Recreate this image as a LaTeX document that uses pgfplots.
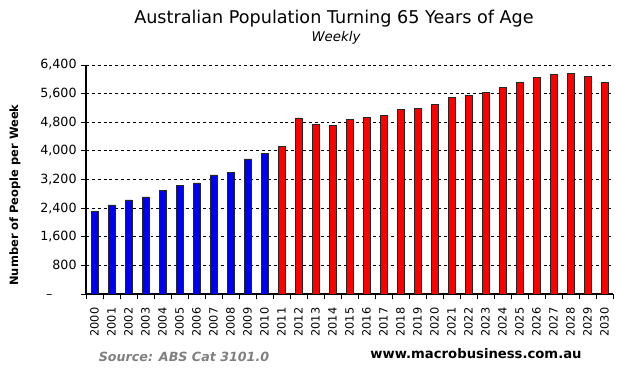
\documentclass[border=0pt]{standalone}
\usepackage{pgfplots}
\pgfplotsset{compat=1.18}
\usepackage{fontspec}
\setmainfont{DejaVu Sans}
\definecolor{barblue}{RGB}{0,0,240}
\definecolor{barred}{RGB}{250,0,0}
\definecolor{srcgray}{RGB}{128,128,128}
\begin{document}
\begin{tikzpicture}
\path[use as bounding box] (-64.5pt,-65.25pt) rectangle (404.25pt,220.5pt);
\begin{axis}[
  at={(0pt,0pt)}, anchor=south west,
  scale only axis, width=395.25pt, height=171.75pt,
  xmin=-0.5, xmax=30.5, ymin=0, ymax=6400,
  axis lines*=left,
  axis line style={black, line width=0.8pt},
  ybar, bar shift=0pt, bar width=0.4,
  xtick={0,...,30},
  xticklabels={2000,2001,2002,2003,2004,2005,2006,2007,2008,2009,2010,2011,2012,2013,2014,2015,2016,2017,2018,2019,2020,2021,2022,2023,2024,2025,2026,2027,2028,2029,2030},
  x tick label style={rotate=90, anchor=east, font=\fontsize{8.5}{10}\selectfont, inner xsep=6.5pt, inner ysep=1pt},
  minor xtick={-0.5,0.5,...,30.5},
  ytick={0,800,...,6400},
  yticklabels={{--\phantom{000}},{800},{1,600},{2,400},{3,200},{4,000},{4,800},{5,600},{6,400}},
  y tick label style={font=\fontsize{9.5}{11}\selectfont},
  tick align=outside,
  x tick style={draw=none},
  minor x tick style={draw=black, line width=0.6pt},
  minor tick length=4pt,
  y tick style={black, line width=0.6pt},
  major tick length=3.5pt,
  ymajorgrids,
  major grid style={black, dashed, line width=0.6pt, dash pattern=on 2.2pt off 2.2pt},
]
\addplot[fill=barblue, draw=black!85, line width=0.5pt] coordinates {
(0,2300) (1,2490) (2,2630) (3,2715) (4,2885) (5,3025) (6,3105) (7,3330) (8,3405) (9,3775) (10,3935)
};
\addplot[fill=barred, draw=black!85, line width=0.5pt] coordinates {
(11,4130) (12,4920) (13,4745) (14,4715) (15,4885) (16,4940) (17,4995) (18,5160) (19,5190) (20,5300)
(21,5495) (22,5550) (23,5635) (24,5775) (25,5915) (26,6055) (27,6140) (28,6165) (29,6080) (30,5915)
};
\end{axis}
\node[font=\fontsize{13.2}{15}\selectfont] at (186pt,206.5pt) {Australian Population Turning 65 Years of Age};
\node[font=\fontsize{10}{12}\selectfont\itshape] at (187.5pt,192pt) {Weekly};
\node[font=\fontsize{8.6}{10}\selectfont\bfseries, rotate=90] at (-53.25pt,74.25pt) {Number of People per Week};
\node[font=\fontsize{9.5}{11}\selectfont\bfseries\itshape, text=srcgray] at (73.5pt,-47.25pt) {Source: ABS Cat 3101.0};
\node[font=\fontsize{9.9}{11}\selectfont\bfseries] at (292.5pt,-45pt) {www.macrobusiness.com.au};
\end{tikzpicture}
\end{document}
